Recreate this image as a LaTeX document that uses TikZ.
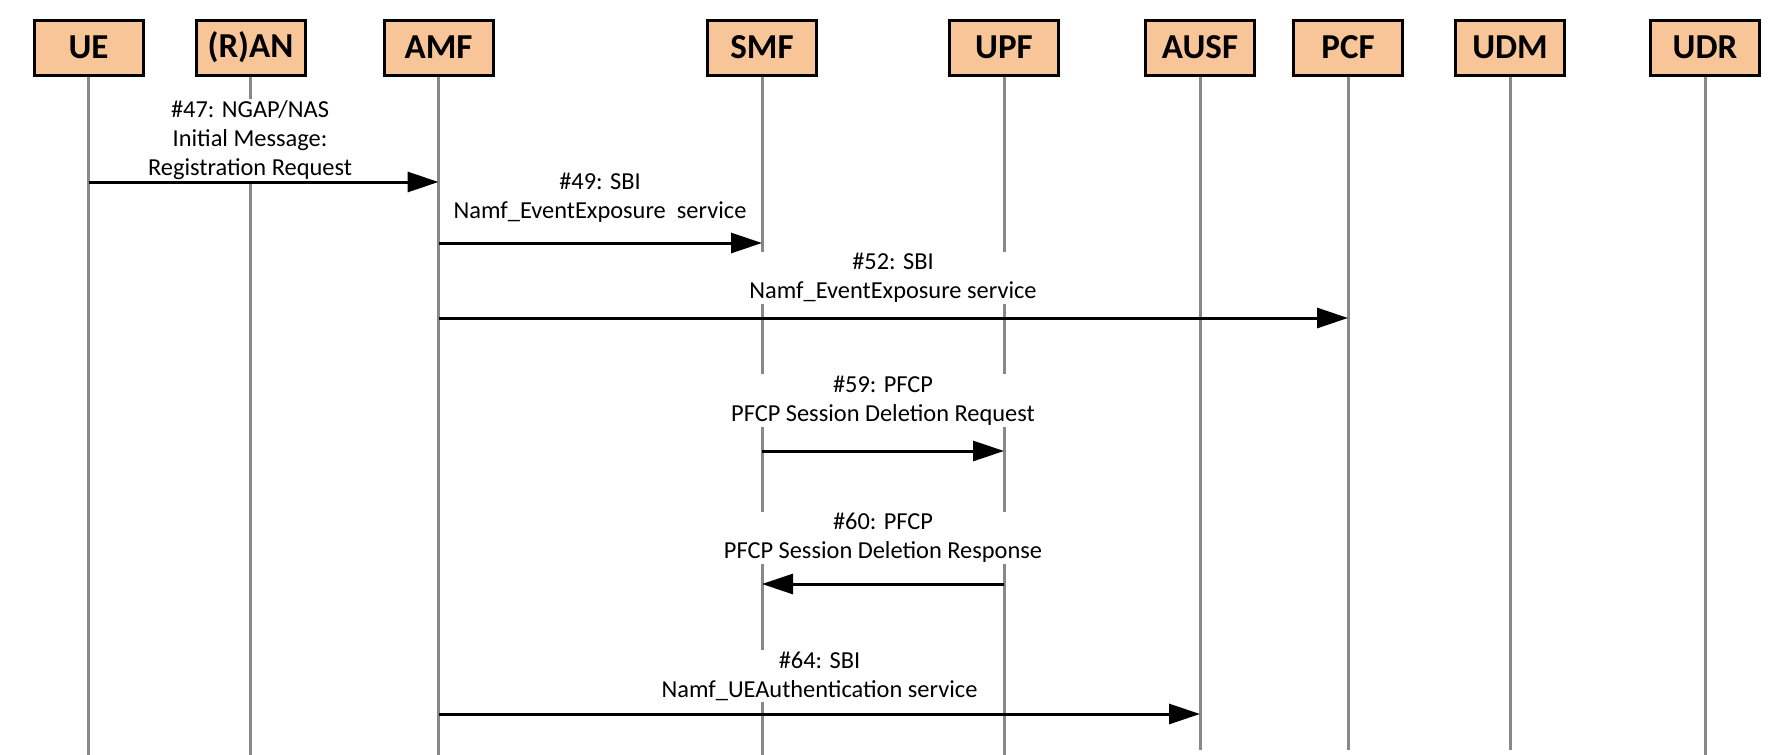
\documentclass[tikz,border=0pt]{standalone}
\usepackage{fontspec}
\setmainfont{Carlito}
\usetikzlibrary{arrows.meta}
\def\px{0.5pt}
\definecolor{boxfill}{RGB}{248,197,152}
\definecolor{lifegray}{RGB}{136,136,136}
\tikzset{
    entity/.style = {draw=black, line width=1.5pt, fill=boxfill, minimum width=54.5pt, minimum height=27.5pt, inner sep=0pt, font=\fontsize{17.5}{20}\selectfont\bfseries},
    lifeline/.style = {draw=lifegray, line width=1.5pt},
    msg/.style = {line width=1.5pt, -{Triangle[length=15.5pt, width=10pt]}},
    msglabel/.style = {fill=white, align=center, inner sep=0.8pt, font=\fontsize{12.2}{14.4}\selectfont}
}

\begin{document}
\begin{tikzpicture}[x=\px, y=-\px]
        \useasboundingbox (0,0) rectangle (1784,755);

        % network functions
        \node[entity] (UE) at (88.5,47.5) {UE};
        \node[entity] (RAN) at (250.5,47.5) {(R)AN};
        \node[entity] (AMF) at (438.5,47.5) {AMF};
        \node[entity] (SMF) at (762,47.5) {SMF};
        \node[entity] (UPF) at (1004,47.5) {UPF};
        \node[entity] (AUSF) at (1200,47.5) {AUSF};
        \node[entity] (PCF) at (1348,47.5) {PCF};
        \node[entity] (UDM) at (1510,47.5) {UDM};
        \node[entity] (UDR) at (1705,47.5) {UDR};

        % draw lifelines
        \foreach \nf/\bottom in {UE/755, RAN/755, AMF/755, SMF/755, UPF/755, AUSF/750, PCF/750, UDM/750, UDR/755} {
            \coordinate (\nf-end) at (\nf |- 0,\bottom);
            \draw[lifeline] (\nf.south) -- (\nf-end);
        }

        % messages
        \draw[msg] (UE |- 0,182) -- (AMF |- 0,182);
        \draw[msg] (AMF |- 0,243) -- (SMF |- 0,243);
        \draw[msg] (AMF |- 0,318) -- (PCF |- 0,318);
        \draw[msg] (SMF |- 0,451) -- (UPF |- 0,451);
        \draw[msg] (UPF |- 0,584) -- (SMF |- 0,584);
        \draw[msg] (AMF |- 0,714) -- (AUSF |- 0,714);

        % message labels
        \node[msglabel] (m47) at (250,140) {\#47: NGAP/NAS\\Initial Message:\\Registration Request};
        \node[msglabel] (m49) at (600,198) {\#49: SBI\\Namf\_EventExposure\ \ service};
        \node[msglabel] (m52) at (893,278) {\#52: SBI\\Namf\_EventExposure service};
        \node[msglabel] (m59) at (883,400.5) {\#59: PFCP\\PFCP Session Deletion Request};
        \node[msglabel] (m60) at (883,538) {\#60: PFCP\\PFCP Session Deletion Response};
        \node[msglabel] (m64) at (819.5,676) {\#64: SBI\\Namf\_UEAuthentication service};

\end{tikzpicture}
\end{document}
